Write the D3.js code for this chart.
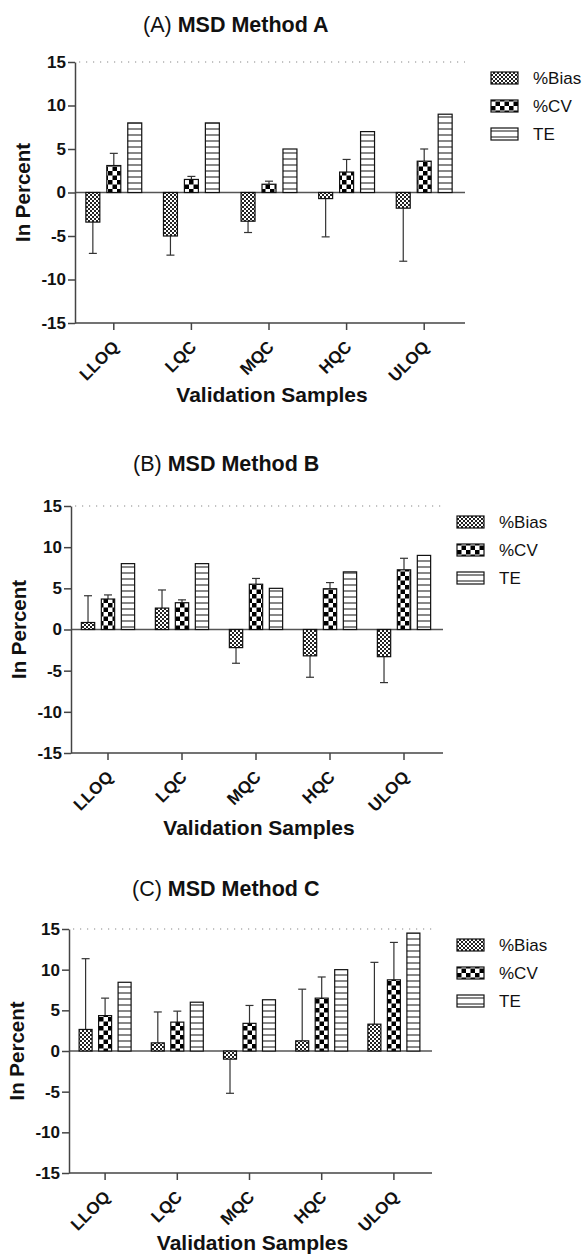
<!DOCTYPE html>
<html>
<head>
<meta charset="utf-8">
<script src="https://cdn.jsdelivr.net/npm/d3@7/dist/d3.min.js"></script>
<style>
  body { margin: 0; background: #fff; }
  svg { display: block; font-family: "Liberation Sans", Arial, sans-serif; }
</style>
</head>
<body>
<svg width="588" height="1254"></svg>
<script>
var categories = ["LLOQ", "LQC", "MQC", "HQC", "ULOQ"];
var seriesNames = ["%Bias", "%CV", "TE"];
var yTicks = [-15, -10, -5, 0, 5, 10, 15];

// (A) MSD Method A
var biasA = [-3.4, -5.0, -3.3, -0.7, -1.8];
var biasSdA = [3.6, 2.2, 1.3, 4.4, 6.1];
var cvA = [3.1, 1.5, 0.95, 2.35, 3.6];
var cvSdA = [1.4, 0.35, 0.35, 1.45, 1.4];
var teA = [8, 8, 5, 7, 9];

// (B) MSD Method B
var biasB = [0.85, 2.6, -2.2, -3.2, -3.3];
var biasSdB = [3.25, 2.2, 1.9, 2.6, 3.15];
var cvB = [3.7, 3.25, 5.5, 4.95, 7.25];
var cvSdB = [0.5, 0.35, 0.7, 0.75, 1.4];
var teB = [8, 8, 5, 7, 9];

// (C) MSD Method C
var biasC = [2.65, 1.0, -1.0, 1.25, 3.3];
var biasSdC = [8.7, 3.8, 4.2, 6.35, 7.6];
var cvC = [4.35, 3.55, 3.4, 6.5, 8.75];
var cvSdC = [2.15, 1.35, 2.2, 2.6, 4.6];
var teC = [8.45, 6.0, 6.3, 10.0, 14.5];

var panels = [
    {letter: "A", name: "MSD Method A", bias: biasA, biasSd: biasSdA, cv: cvA, cvSd: cvSdA, te: teA,
        left: 75, right: 463, top: 62, bottom: 323, titleX: 143, titleY: 32, legendX: 491, xTitleY: 402},
    {letter: "B", name: "MSD Method B", bias: biasB, biasSd: biasSdB, cv: cvB, cvSd: cvSdB, te: teB,
        left: 71, right: 441, top: 506, bottom: 753, titleX: 133, titleY: 471, legendX: 457, xTitleY: 835},
    {letter: "C", name: "MSD Method C", bias: biasC, biasSd: biasSdC, cv: cvC, cvSd: cvSdC, te: teC,
        left: 69, right: 430, top: 929, bottom: 1173, titleX: 132, titleY: 896, legendX: 457, xTitleY: 1250}
];

var svg = d3.select("svg");
var defs = svg.append("defs");

// fine check for %Bias
var pb = defs.append("pattern").attr("id", "pBias").attr("patternUnits", "userSpaceOnUse")
        .attr("width", 4).attr("height", 4);
pb.append("rect").attr("width", 4).attr("height", 4).attr("fill", "#fff");
pb.append("rect").attr("width", 2).attr("height", 2).attr("fill", "#222");
pb.append("rect").attr("x", 2).attr("y", 2).attr("width", 2).attr("height", 2).attr("fill", "#222");

// big checkerboard for %CV
var pc = defs.append("pattern").attr("id", "pCv").attr("patternUnits", "userSpaceOnUse")
        .attr("width", 9).attr("height", 9);
pc.append("rect").attr("width", 9).attr("height", 9).attr("fill", "#fff");
pc.append("rect").attr("width", 4.5).attr("height", 4.5).attr("fill", "#000");
pc.append("rect").attr("x", 4.5).attr("y", 4.5).attr("width", 4.5).attr("height", 4.5).attr("fill", "#000");

// horizontal stripes for TE
var pt = defs.append("pattern").attr("id", "pTe").attr("patternUnits", "userSpaceOnUse")
        .attr("width", 6).attr("height", 6);
pt.append("rect").attr("width", 6).attr("height", 6).attr("fill", "#fff");
pt.append("line").attr("x1", 0).attr("x2", 6).attr("y1", 3).attr("y2", 3)
        .attr("stroke", "#111").attr("stroke-width", 1);

var fills = {"%Bias": "url(#pBias)", "%CV": "url(#pCv)", "TE": "url(#pTe)"};

function drawPanel(p) {
    var g = svg.append("g");

    var x0 = d3.scaleBand().domain(categories).range([p.left, p.right]);
    var bw = x0.bandwidth();
    var x1 = d3.scalePoint().domain(seriesNames).range([bw * 0.23, bw * 0.77]);
    var barW = bw * 0.18;
    var y = d3.scaleLinear().domain([-15, 15]).range([p.bottom, p.top]);

    // title
    var t = g.append("text").attr("x", p.titleX).attr("y", p.titleY)
            .attr("font-size", 21.5).attr("fill", "#111");
    t.append("tspan").text("(" + p.letter + ") ");
    t.append("tspan").attr("font-weight", "bold").text(p.name);

    // dotted line at 15
    g.append("line")
            .attr("x1", p.left + 4).attr("x2", p.right + 2)
            .attr("y1", y(15)).attr("y2", y(15))
            .attr("stroke", "#888").attr("stroke-width", 1.2)
            .attr("stroke-dasharray", "1.2,5.8");

    // zero line
    g.append("line")
            .attr("x1", p.left).attr("x2", p.right + 2)
            .attr("y1", y(0)).attr("y2", y(0))
            .attr("stroke", "#555").attr("stroke-width", 1.5);

    // y axis
    var ya = g.append("g")
            .attr("transform", "translate(" + p.left + ",0)")
            .call(d3.axisLeft(y).tickValues(yTicks).tickSize(7).tickSizeOuter(0).tickPadding(2)
                    .tickFormat(function (d) { return String(d); }));
    ya.selectAll("path, line").attr("stroke", "#444").attr("stroke-width", 1.5);
    ya.selectAll("text").attr("font-size", 17).attr("font-weight", "bold").attr("fill", "#111")
            .attr("font-family", "Liberation Sans, Arial, sans-serif");

    g.append("text")
            .attr("transform", "translate(" + (p.left - 45) + "," + ((p.top + p.bottom) / 2) + ") rotate(-90)")
            .attr("text-anchor", "middle")
            .attr("font-size", 20.5).attr("font-weight", "bold").attr("fill", "#111")
            .text("In Percent");

    // x axis
    var xa = g.append("g")
            .attr("transform", "translate(0," + p.bottom + ")")
            .call(d3.axisBottom(x0).tickSize(7).tickSizeOuter(0).tickFormat(""));
    xa.select("path").attr("d", "M" + p.left + ",0H" + (p.right + 2));
    xa.selectAll("path, line").attr("stroke", "#444").attr("stroke-width", 1.5);

    g.append("g").selectAll("text")
            .data(categories)
            .enter().append("text")
            .attr("transform", function (d) {
                return "translate(" + (x0(d) + bw / 2 + 6) + "," + (p.bottom + 25) + ") rotate(-45)";
            })
            .attr("text-anchor", "end")
            .attr("font-size", 17).attr("font-weight", "bold").attr("fill", "#111")
            .text(function (d) { return d; });

    g.append("text")
            .attr("x", (p.left + p.right) / 2 + 3).attr("y", p.xTitleY)
            .attr("text-anchor", "middle")
            .attr("font-size", 21).attr("font-weight", "bold").attr("fill", "#111")
            .text("Validation Samples");

    // bars
    var rows = categories.map(function (c, i) {
        return [
            {cat: c, key: "%Bias", value: p.bias[i], sd: p.biasSd[i]},
            {cat: c, key: "%CV", value: p.cv[i], sd: p.cvSd[i]},
            {cat: c, key: "TE", value: p.te[i], sd: null}
        ];
    });
    var items = [].concat.apply([], rows);

    var withErr = items.filter(function (d) { return d.sd !== null; });
    var eb = g.append("g").selectAll("g")
            .data(withErr)
            .enter().append("g")
            .attr("stroke", "#333").attr("stroke-width", 1.2);
    eb.append("line")
            .attr("x1", function (d) { return x0(d.cat) + x1(d.key); })
            .attr("x2", function (d) { return x0(d.cat) + x1(d.key); })
            .attr("y1", function (d) { return y(d.value); })
            .attr("y2", function (d) { return y(d.value + (d.value < 0 ? -d.sd : d.sd)); });
    eb.append("line")
            .attr("x1", function (d) { return x0(d.cat) + x1(d.key) - 4; })
            .attr("x2", function (d) { return x0(d.cat) + x1(d.key) + 4; })
            .attr("y1", function (d) { return y(d.value + (d.value < 0 ? -d.sd : d.sd)); })
            .attr("y2", function (d) { return y(d.value + (d.value < 0 ? -d.sd : d.sd)); });

    g.append("g").selectAll("rect")
            .data(items)
            .enter().append("rect")
            .attr("x", function (d) { return x0(d.cat) + x1(d.key) - barW / 2; })
            .attr("y", function (d) { return y(Math.max(d.value, 0)); })
            .attr("width", barW)
            .attr("height", function (d) { return Math.abs(y(d.value) - y(0)); })
            .attr("fill", function (d) { return fills[d.key]; })
            .attr("stroke", "#111").attr("stroke-width", 1.2);

    // legend
    var legend = g.append("g").selectAll("g")
            .data(seriesNames)
            .enter().append("g")
            .attr("transform", function (d, i) {
                return "translate(" + p.legendX + "," + (p.top + 16 + i * 28) + ")";
            });
    legend.append("rect")
            .attr("y", -6).attr("width", 27).attr("height", 12)
            .attr("fill", function (d) { return fills[d]; })
            .attr("stroke", "#111").attr("stroke-width", 1.2);
    legend.append("text")
            .attr("x", 42).attr("y", 6)
            .attr("font-size", 17).attr("fill", "#111")
            .text(function (d) { return d; });
}

panels.forEach(drawPanel);
</script>
</body>
</html>
